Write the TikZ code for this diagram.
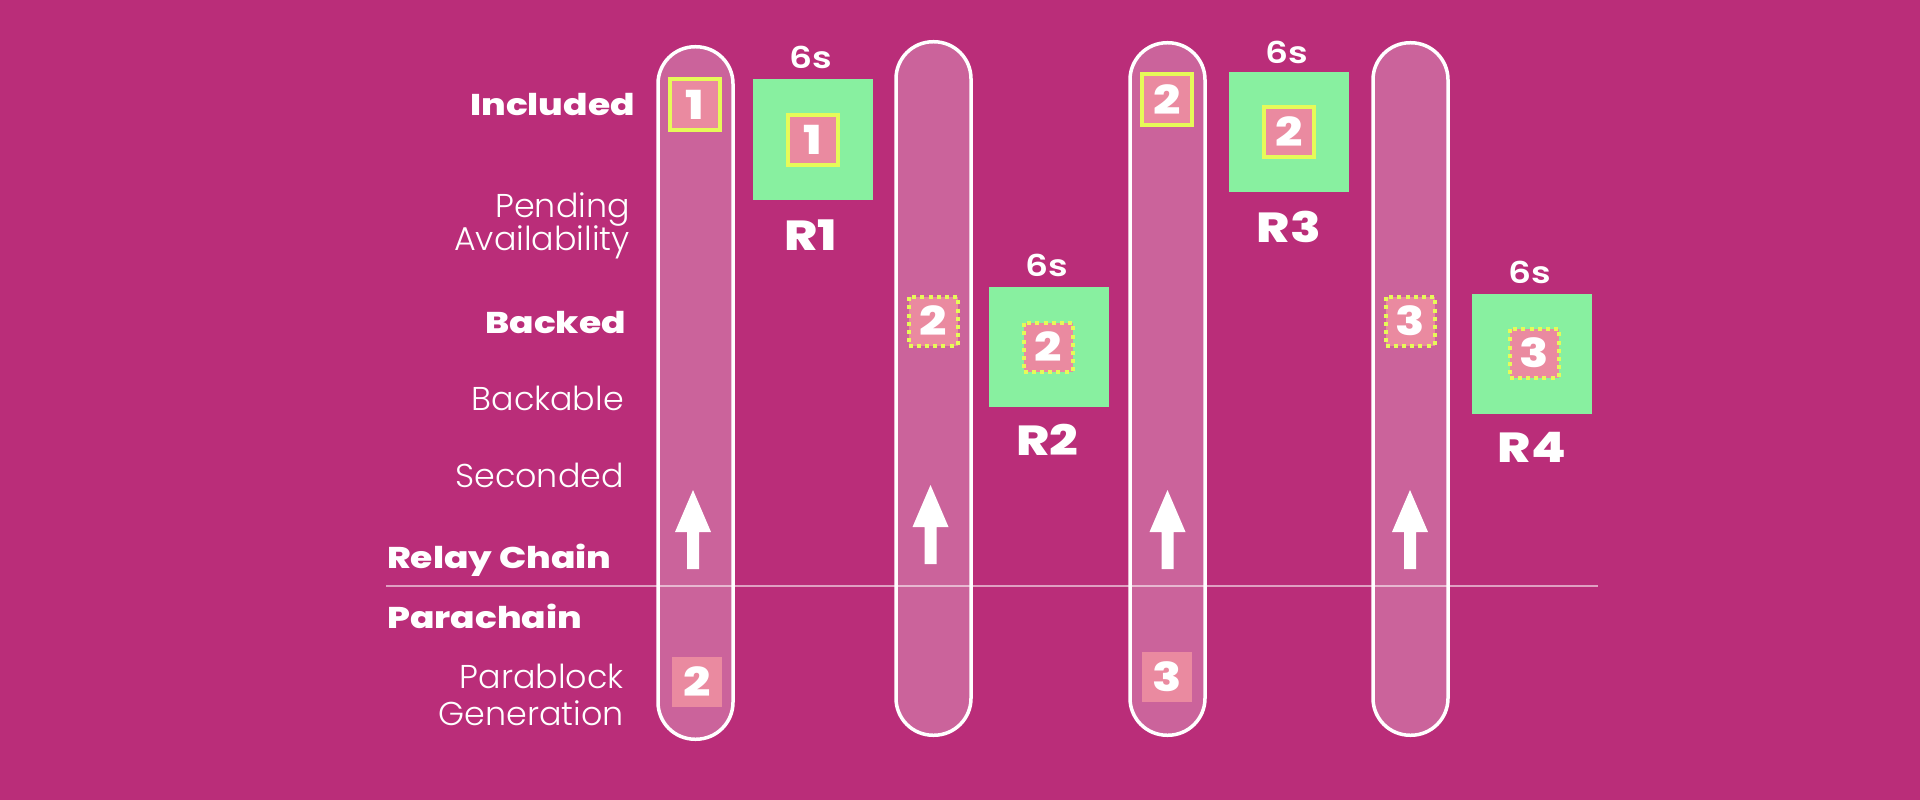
\documentclass[tikz,border=0pt]{standalone}
\usepackage{fontspec}
\setmainfont{Poppins}
\IfFontExistsTF{Poppins ExtraBold}
  {\newfontfamily\bw{Poppins ExtraBold}[FakeStretch=1.2]}
  {\newfontfamily\bw{Poppins}[FakeStretch=1.2,UprightFont=*,BoldFont=*]\bw\bfseries}
\IfFontExistsTF{Poppins Light}
  {\newfontfamily\lt{Poppins Light}[FakeStretch=1.01]}
  {\newfontfamily\lt{Poppins}[FakeStretch=1.01]}
\IfFontExistsTF{Poppins SemiBold}
  {\newfontfamily\md{Poppins SemiBold}[FakeStretch=1.2]}
  {\newfontfamily\md{Poppins}[FakeStretch=1.2,FakeBold=2.5]}
\definecolor{bg}{RGB}{186,45,121}
\definecolor{sqpink}{RGB}{234,138,160}
\definecolor{rgreen}{RGB}{136,240,160}
\definecolor{ylw}{RGB}{230,250,88}
\tikzset{
  pillar/.style={draw=white, line width=3.5pt, fill=white, fill opacity=0.26, draw opacity=1, text opacity=1,
    rounded corners=37pt, minimum width=75pt, inner sep=0pt},
  relay/.style={fill=rgreen, minimum size=120pt, inner sep=0pt},
  blk/.style={fill=sqpink, minimum size=50pt, inner sep=0pt, text=white, font=\bw\fontsize{40}{40}\selectfont},
  inc/.style={blk, draw=ylw, line width=4pt},
  bkd/.style={blk, minimum size=49pt, draw=ylw, line width=4pt, dash pattern=on 4pt off 4.2pt},
  boldlab/.style={text=white, inner sep=0pt, font=\bw\fontsize{30}{30}\selectfont},
  lightlab/.style={text=white, inner sep=0pt, font=\lt\fontsize{33}{33}\selectfont},
  secs/.style={text=white, inner sep=0pt, font=\md\fontsize{30}{30}\selectfont},
  rlab/.style={text=white, inner sep=0pt, font=\bw\fontsize{42}{42}\selectfont},
  uparr/.pic={\fill[white] (0,0) -- (18,42) -- (6,42) -- (6,79) -- (-6,79) -- (-6,42) -- (-18,42) -- cycle;}
}
\begin{document}
\begin{tikzpicture}[x=1pt,y=-1pt]
\fill[bg] (0,0) rectangle (1920,800);
\useasboundingbox (0,0) rectangle (1920,800);

% divider line
\coordinate (lineL) at (386,586);
\coordinate (lineR) at (1598,586);
\draw[white, draw opacity=0.55, line width=1.5pt] (lineL) -- (lineR);

% pillars
\node[pillar, minimum height=692.5pt] (p1) at (695.5,393) {};
\node[pillar, minimum height=693.5pt] (p2) at (933.5,388.5) {};
\node[pillar, minimum height=692.5pt] (p3) at (1167.5,389) {};
\node[pillar, minimum height=692.5pt] (p4) at (1410.5,389) {};

% arrows
\pic at (693,490) {uparr};
\pic at (930.5,485) {uparr};
\pic at (1167.5,490) {uparr};
\pic at (1410,490) {uparr};

% blocks in pillars
\node[inc] (b1top) at (695,104.5) {1};
\node[bkd] (b2mid) at (933,321) {2};
\node[inc] (b3top) at (1167,99.5) {2};
\node[bkd] (b4mid) at (1410,321) {3};
\node[blk] (b1bot) at (697,682) {2};
\node[blk] (b3bot) at (1167,677) {3};

% relay chain blocks
\node[relay] (r1) at (813,139.5) {};
\node[relay] (r2) at (1049,347) {};
\node[relay] (r3) at (1289,132) {};
\node[relay] (r4) at (1532,353.5) {};
\node[inc] (r1b) at (r1) {1};
\node[bkd] (r2b) at (1048,347) {2};
\node[inc] (r3b) at (r3) {2};
\node[bkd] (r4b) at (1534,353) {3};

\node[secs] (s1) at (811,57) {6s};
\node[secs] (s2) at (1047,265) {6s};
\node[secs] (s3) at (1287,52) {6s};
\node[secs] (s4) at (1530,272) {6s};

\node[rlab] (l1) at (811,235) {R1};
\node[rlab] (l2) at (1047,440) {R2};
\node[rlab] (l3) at (1289,227) {R3};
\node[rlab] (l4) at (1532,447) {R4};

% left labels
\node[boldlab, anchor=base east] (included) at (635,115) {Included};
\node[lightlab, anchor=base east] (pend1) at (630,217) {Pending};
\node[lightlab, anchor=base east] (pend2) at (630,250) {Availability};
\node[boldlab, anchor=base east] (backed) at (626,333) {Backed};
\node[lightlab, anchor=base east] (backable) at (624,410) {Backable};
\node[lightlab, anchor=base east] (seconded) at (624,487) {Seconded};
\node[boldlab, anchor=base west] (relay) at (387,568) {Relay Chain};
\node[boldlab, anchor=base west] (para) at (387,628) {Parachain};
\node[lightlab, anchor=base east] (pgen1) at (624,688) {Parablock};
\node[lightlab, anchor=base east] (pgen2) at (624,725) {Generation};
\end{tikzpicture}
\end{document}
